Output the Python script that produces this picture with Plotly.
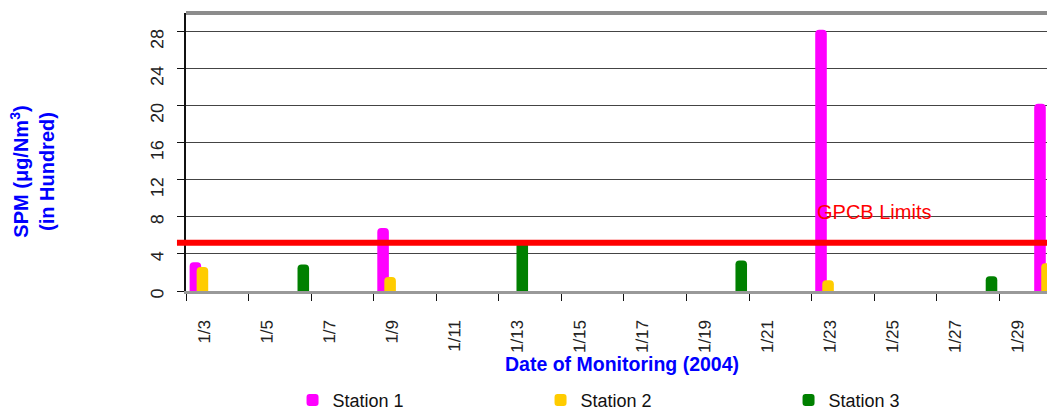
import plotly.graph_objects as go

# monitoring dates (Jan 2004)
dates = ["1/3", "1/4", "1/5", "1/6", "1/7", "1/8", "1/9", "1/10", "1/11", "1/12",
         "1/13", "1/14", "1/15", "1/16", "1/17", "1/18", "1/19", "1/20", "1/21",
         "1/22", "1/23", "1/24", "1/25", "1/26", "1/27", "1/28", "1/29", "1/30"]

# SPM values (in hundred ug/Nm3), missing date = no sample
station1 = {"1/3": 3.1, "1/9": 6.8, "1/23": 28.2, "1/30": 20.2}
station2 = {"1/3": 2.6, "1/9": 1.5, "1/23": 1.15, "1/30": 3.0}
station3 = {"1/6": 2.85, "1/13": 5.3, "1/20": 3.3, "1/28": 1.6}

gpcb_limit = 5.2
y_ticks = [0, 4, 8, 12, 16, 20, 24, 28]

series = [
    ("Station 1", station1, "#FF00FF", -0.385),
    ("Station 2", station2, "#FFCC00", -0.16),
    ("Station 3", station3, "#008000", 0.065),
]

FONT = "Arial, Liberation Sans, sans-serif"
BLUE = "#0000FF"

fig = go.Figure()
for name, vals, color, off in series:
    fig.add_trace(go.Bar(
        x=dates,
        y=[vals.get(d) for d in dates],
        name=name,
        marker=dict(color=color, line=dict(width=0), cornerradius=4),
        width=0.37,
        offset=off,
    ))

# GPCB limit line
fig.add_shape(type="line", xref="paper", yref="y",
              x0=-0.0104, x1=1, y0=gpcb_limit, y1=gpcb_limit,
              line=dict(color="#FF0000", width=6), layer="above")
# top border
fig.add_shape(type="line", xref="paper", yref="paper",
              x0=0, x1=1, y0=1, y1=1,
              line=dict(color="#8C8C8C", width=4))

fig.add_annotation(text="GPCB Limits", xref="x", yref="y", x=19.6, y=8.5,
                   xanchor="left", yanchor="middle", showarrow=False,
                   font=dict(family=FONT, size=20, color="#FF0000"))

fig.add_annotation(text="SPM (\u03bcg/Nm<sup>3</sup>)<br>(in Hundred)",
                   xref="paper", yref="paper", x=-0.177, y=0.43,
                   xanchor="center", yanchor="middle", textangle=-90,
                   showarrow=False,
                   font=dict(family=FONT, size=20, color=BLUE, weight="bold"))

fig.add_annotation(text="Date of Monitoring (2004)",
                   xref="paper", yref="paper", x=0.502, y=-0.264,
                   xanchor="center", yanchor="middle", showarrow=False,
                   font=dict(family=FONT, size=19.5, color=BLUE, weight="bold"))

# page body has an 8px margin, so the figure is sized to fit the window
fig.update_layout(
    width=1047, height=404,
    margin=dict(l=178, r=0, t=5, b=121, autoexpand=False),
    plot_bgcolor="white", paper_bgcolor="white",
    barmode="overlay",
    font=dict(family=FONT, size=16, color="#222"),
    showlegend=True,
    legend=dict(orientation="h", x=0.1226, xanchor="left", y=-0.327, yanchor="top",
                entrywidth=203, entrywidthmode="pixels",
                font=dict(family=FONT, size=18, color="#111"),
                bgcolor="rgba(0,0,0,0)"),
)

fig.update_xaxes(
    type="category", range=[-0.5, 27.28], automargin=False,
    tickmode="linear", tick0=0, dtick=2, tickson="boundaries",
    tickangle=-89.5, ticks="outside", ticklen=7, tickcolor="#111", tickwidth=1,
    ticklabelstandoff=14,
    showline=True, linecolor="#999", linewidth=3,
    showgrid=False, zeroline=False,
    tickfont=dict(family=FONT, size=17, color="#222"),
)
fig.update_yaxes(
    range=[0, 30], tickvals=y_ticks, automargin=False,
    tickangle=-89.5, ticks="outside", ticklen=7, tickcolor="#111", tickwidth=1,
    ticklabelstandoff=19,
    showline=True, linecolor="#111", linewidth=2,
    showgrid=True, gridcolor="#444", gridwidth=1, zeroline=False,
    tickfont=dict(family=FONT, size=18, color="#222"),
)

fig.write_html("out.html")
